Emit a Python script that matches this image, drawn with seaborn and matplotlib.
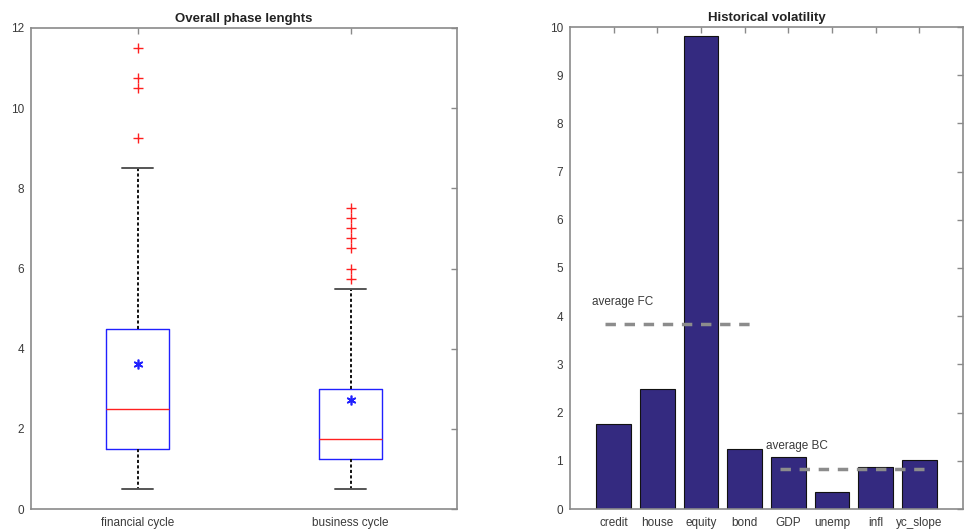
import matplotlib
matplotlib.use("Agg")
import matplotlib.pyplot as plt
import seaborn as sns
import pandas as pd

# ---- data: phase lengths box statistics ----
cycle_labels = ["financial cycle", "business cycle"]
q1_vals = [1.5, 1.25]
median_vals = [2.5, 1.75]
q3_vals = [4.5, 3.0]
whisker_low = [0.5, 0.5]
whisker_high = [8.5, 5.5]
mean_vals = [3.62, 2.72]
outliers_fc = [9.25, 10.5, 10.75, 11.5]
outliers_bc = [5.75, 6.0, 6.5, 6.75, 7.0, 7.25, 7.5]

# ---- data: historical volatility ----
variables = ["credit", "house", "equity", "bond", "GDP", "unemp", "infl", "yc_slope"]
volatility = [1.76, 2.50, 9.82, 1.24, 1.07, 0.35, 0.87, 1.01]
avg_fc = 3.84
avg_bc = 0.82

sns.set_style("white")
plt.rcParams["font.family"] = ["Liberation Sans", "DejaVu Sans"]

fig = plt.figure(figsize=(9.65, 5.32), dpi=100)
ax1 = fig.add_axes([31 / 965, 23 / 532, 426 / 965, 481 / 532])
ax2 = fig.add_axes([570 / 965, 23 / 532, 393 / 965, 482 / 532])

spine_col = "#8a8a8a"
txt_col = "#3a3a3a"

# ---- left: box plot ----
stats = []
outs = [outliers_fc, outliers_bc]
for i in range(2):
    stats.append(dict(label=cycle_labels[i], q1=q1_vals[i], med=median_vals[i],
                      q3=q3_vals[i], whislo=whisker_low[i], whishi=whisker_high[i],
                      mean=mean_vals[i], fliers=outs[i]))
ax1.bxp(stats, positions=[1, 2], widths=0.3, capwidths=0.15, showfliers=True,
        boxprops=dict(color="#2020ff", linewidth=1.0),
        medianprops=dict(color="#ff2020", linewidth=1.0),
        whiskerprops=dict(color="#111111", linewidth=1.4, linestyle=(0, (1.6, 1.2))),
        capprops=dict(color="#555555", linewidth=1.4),
        flierprops=dict(marker="+", markeredgecolor="#ff2020", markersize=7,
                        markeredgewidth=1.0, linestyle="none"))
ax1.plot([1, 2], mean_vals, linestyle="none", marker=(6, 2, 0), markersize=7,
         markeredgecolor="#2020ff", markeredgewidth=1.2)
ax1.set_xlim(0.5, 2.5)
ax1.set_ylim(0, 12)
ax1.set_yticks(range(0, 13, 2))
ax1.set_xticks([1, 2])
ax1.set_xticklabels(cycle_labels)
ax1.set_title("Overall phase lenghts", fontsize=9.5, fontweight="bold", color="#222222", pad=4)

# ---- right: bar chart ----
df = pd.DataFrame({"variable": variables, "volatility": volatility})
sns.barplot(data=df, x="variable", y="volatility", order=variables, color="#342a80",
            saturation=1, width=0.8, edgecolor="#111111", linewidth=0.8, ax=ax2)
ax2.set_xlim(-1, 8)
ax2.set_ylim(0, 10)
ax2.set_yticks(range(0, 11))
ax2.set_xlabel("")
ax2.set_ylabel("")
ax2.plot([-0.2, 3.2], [avg_fc, avg_fc], color="#8c8c8c", linewidth=2.5,
         linestyle=(0, (3, 2.5)))
ax2.plot([3.8, 7.1], [avg_bc, avg_bc], color="#8c8c8c", linewidth=2.5,
         linestyle=(0, (3, 2.5)))
ax2.text(-0.5, 4.3, "average FC", fontsize=8.5, color=txt_col, va="center", ha="left")
ax2.text(3.48, 1.31, "average BC", fontsize=8.5, color=txt_col, va="center", ha="left")
ax2.set_title("Historical volatility", fontsize=9.5, fontweight="bold", color="#222222", pad=4)

for ax in (ax1, ax2):
    for s in ax.spines.values():
        s.set_visible(True)
        s.set_color(spine_col)
        s.set_linewidth(1.2)
    ax.tick_params(direction="in", top=True, right=True, length=4, width=1,
                   color=spine_col, labelsize=8.5, labelcolor=txt_col, pad=5)
    ax.tick_params(axis="x", pad=6)
    ax.grid(False)

fig.savefig("out.png", dpi=100)
